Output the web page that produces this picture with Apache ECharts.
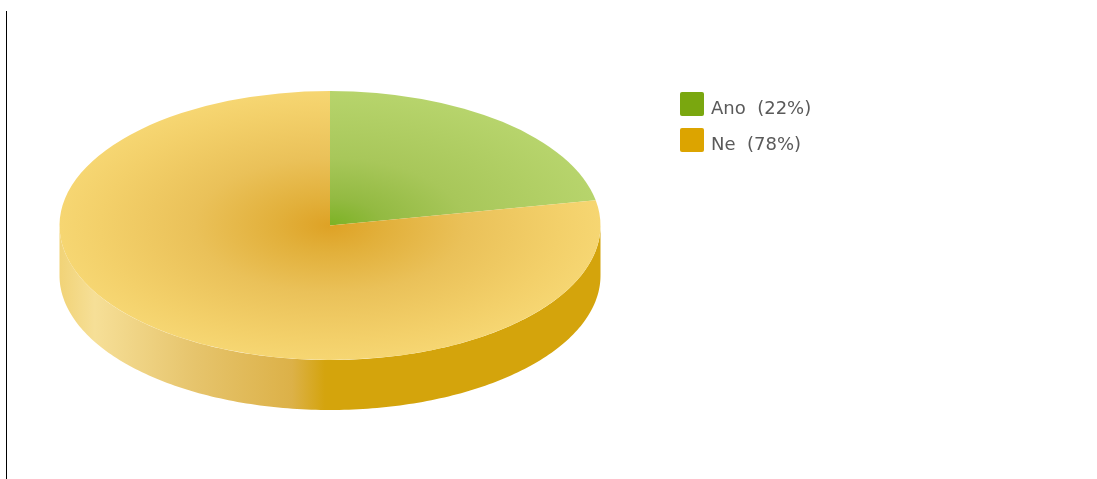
<!DOCTYPE html>
<html>
<head>
<meta charset="utf-8">
<style>
html,body{margin:0;padding:0;background:#fff;}
#chart{width:1097px;height:479px;}
</style>
<script src="https://cdn.jsdelivr.net/npm/echarts@6/dist/echarts.min.js"></script>
</head>
<body>
<div id="chart"></div>
<script>
// Answer shares in percent
const categories = ['Ano', 'Ne'];
const shares = [22, 78];
const baseColors = ['#7aa70f', '#dca400'];

// Disc geometry of the tilted pie
const CX = 330, CY = 225.5, RX = 270.5, RY = 134.5, DEPTH = 50;

const topStops = [
  [{offset: 0, color: '#7cb224'}, {offset: 0.2, color: '#93ba42'}, {offset: 0.5, color: '#a8c75a'}, {offset: 1, color: '#b7d46c'}],
  [{offset: 0, color: '#dea225'}, {offset: 0.2, color: '#e2b03b'}, {offset: 0.5, color: '#eac159'}, {offset: 0.85, color: '#f3d06a'}, {offset: 1, color: '#f6d672'}]
];

const total = shares.reduce((a, b) => a + b, 0);

function sliceAngles(index) {
  const before = shares.slice(0, index).reduce((a, b) => a + b, 0);
  const start = -Math.PI / 2 + before / total * Math.PI * 2;
  return [start, start + shares[index] / total * Math.PI * 2];
}

// Visible part of the rim: the lower half of the ellipse that the slice covers
function rimPoints(start, end) {
  const from = Math.max(start, 0), to = Math.min(end, Math.PI);
  if (to <= from) return null;
  const upper = [], lower = [];
  const steps = 180;
  for (let i = 0; i <= steps; i++) {
    const a = from + (to - from) * i / steps;
    const x = CX + RX * Math.cos(a), y = CY + RY * Math.sin(a);
    upper.push([x, y]);
    lower.unshift([x, y + DEPTH]);
  }
  return upper.concat(lower);
}

const rimFill = {
  type: 'linear', global: true, x: CX - RX, y: 0, x2: CX, y2: 0,
  colorStops: [
    {offset: 0, color: '#f1d377'}, {offset: 0.13, color: '#f6df97'},
    {offset: 0.5, color: '#e6c46c'}, {offset: 0.86, color: '#dcb148'},
    {offset: 0.98, color: '#d4a40e'}, {offset: 1, color: '#d4a40c'}
  ]
};

function renderSlice(index) {
  return function () {
    const [start, end] = sliceAngles(index);
    const children = [];
    const rim = rimPoints(start, end);
    if (rim) {
      children.push({type: 'polygon', shape: {points: rim}, style: {fill: rimFill}});
    }
    children.push({
      type: 'group', x: CX, y: CY, scaleY: RY / RX,
      children: [{
        type: 'sector',
        shape: {cx: 0, cy: 0, r: RX, r0: 0, startAngle: start, endAngle: end, clockwise: true},
        style: {fill: {type: 'radial', global: true, x: 0, y: 0, r: RX, colorStops: topStops[index]}}
      }]
    });
    return {type: 'group', children};
  };
}

const chart = echarts.init(document.getElementById('chart'), null, {renderer: 'canvas'});
chart.setOption({
  animation: false,
  backgroundColor: '#fff',
  legend: {
    left: 675, top: 87, orient: 'vertical',
    itemWidth: 24, itemHeight: 24, itemGap: 10,
    icon: 'path://M2,0 H22 Q24,0 24,2 V22 Q24,24 22,24 H2 Q0,24 0,22 V2 Q0,0 2,0 Z',
    data: categories,
    // The label sits a little below the swatch's centre line
    formatter: name => '{t|' + name + '  (' + shares[categories.indexOf(name)] + '%)}',
    textStyle: {
      rich: {
        t: {
          fontFamily: 'DejaVu Sans', fontSize: 18, color: '#5a5a5a',
          lineHeight: 28, verticalAlign: 'bottom', padding: [0, 0, 0, 2]
        }
      }
    },
    selectedMode: false
  },
  graphic: [{
    type: 'line', silent: true,
    shape: {x1: 6.5, y1: 11, x2: 6.5, y2: 479},
    style: {stroke: '#000', lineWidth: 1}
  }],
  series: categories.map((name, i) => ({
    type: 'custom',
    name,
    coordinateSystem: 'none',
    data: [shares[i]],
    itemStyle: {color: baseColors[i]},
    renderItem: renderSlice(i),
    silent: true
  }))
});
</script>
</body>
</html>
